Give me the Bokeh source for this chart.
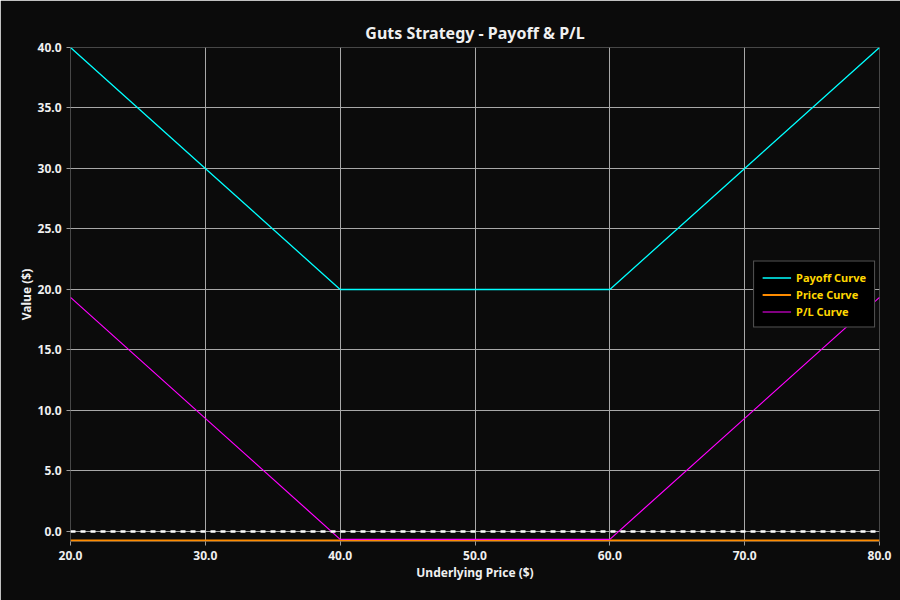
from bokeh.plotting import figure
from bokeh.models import Range1d, FixedTicker, NumeralTickFormatter, Span, Legend, LegendItem
from bokeh.embed import file_html
from bokeh.resources import INLINE

underlying = [20, 30, 40, 50, 60, 70, 80]
payoff = [40, 30, 20, 20, 20, 30, 40]
price_curve = [-0.75, -0.75, -0.75, -0.75, -0.75, -0.75, -0.75]
pnl = [19.35, 9.35, -0.65, -0.65, -0.65, 9.35, 19.35]
x_ticks = [20, 30, 40, 50, 60, 70, 80]
y_ticks = [0, 5, 10, 15, 20, 25, 30, 35, 40]

BG = "#0b0b0b"
FONT = "Noto Sans"

p = figure(width=900, height=600, output_backend="svg", toolbar_location=None,
           x_range=Range1d(20, 80), y_range=Range1d(-0.83, 40),
           title="Guts Strategy - Payoff & P/L",
           min_border_left=70, min_border_right=21, min_border_top=47, min_border_bottom=59)

p.background_fill_color = BG
p.border_fill_color = BG
p.outline_line_color = None

p.title.text_color = "#f0f0f0"
p.title.text_font = FONT
p.title.text_font_size = "16px"
p.title.text_font_style = "bold"
p.title.align = "center"
p.title.standoff = 7

for ax in (p.xaxis, p.yaxis):
    ax.axis_line_color = None
    ax.major_tick_line_color = "#9a9a9a"
    ax.major_tick_out = 4
    ax.major_tick_in = 0
    ax.minor_tick_line_color = None
    ax.major_label_text_color = "#f0f0f0"
    ax.major_label_text_font = FONT
    ax.major_label_text_font_size = "12px"
    ax.major_label_text_font_style = "bold"
    ax.axis_label_text_color = "#f0f0f0"
    ax.axis_label_text_font = FONT
    ax.axis_label_text_font_size = "12px"
    ax.axis_label_text_font_style = "bold"
    ax.formatter = NumeralTickFormatter(format="0.0")

p.xaxis.ticker = FixedTicker(ticks=x_ticks)
p.yaxis.ticker = FixedTicker(ticks=y_ticks)
p.xaxis.axis_label = "Underlying Price ($)"
p.yaxis.axis_label = "Value ($)"
p.xaxis.axis_label_standoff = 1
p.yaxis.axis_label_standoff = 0

p.grid.grid_line_color = "#a8a8a8"
p.grid.grid_line_width = 1

zero = Span(location=0, dimension="width", line_color="white", line_width=2.5, line_dash="5 5")
p.add_layout(zero)

r_payoff = p.line(underlying, payoff, line_color="cyan", line_width=1.3)
r_price = p.line(underlying, price_curve, line_color="#ff8c00", line_width=2)
r_pnl = p.line(underlying, pnl, line_color="magenta", line_width=1.2)

legend = Legend(items=[LegendItem(label="Payoff Curve", renderers=[r_payoff]),
                       LegendItem(label="Price Curve", renderers=[r_price]),
                       LegendItem(label="P/L Curve", renderers=[r_pnl])],
                location="right")
legend.background_fill_color = "#000000"
legend.background_fill_alpha = 1
legend.border_line_color = "#aaaaaa"
legend.label_text_color = "#ffd700"
legend.label_text_font = FONT
legend.label_text_font_style = "bold"
legend.label_text_font_size = "11px"
legend.label_height = 14
legend.glyph_height = 14
legend.glyph_width = 29
legend.spacing = 2
legend.padding = 8
legend.margin = 4
p.add_layout(legend)

open("out.html", "w").write(file_html(p, INLINE))
